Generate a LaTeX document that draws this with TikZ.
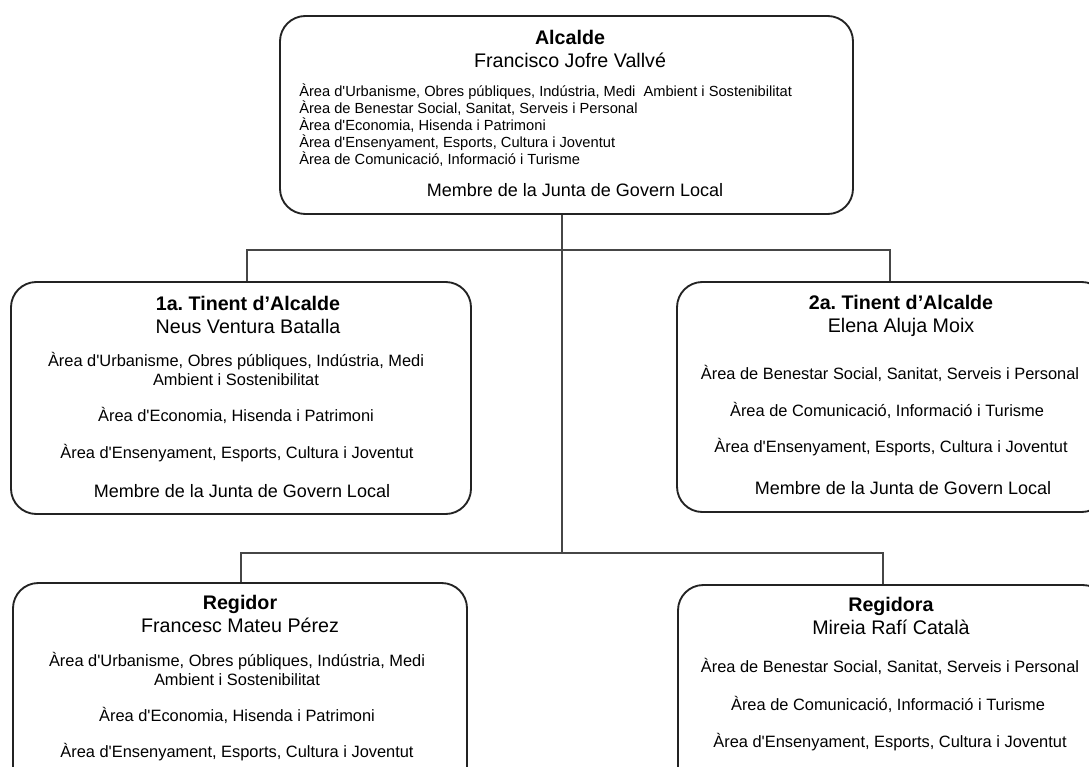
\documentclass[tikz,border=0pt]{standalone}
\usepackage{fontspec}
\setmainfont{Liberation Sans}
\usepackage{tikz}
\usetikzlibrary{positioning, calc}
\definecolor{boxline}{RGB}{35,35,35}
\definecolor{linkline}{RGB}{70,70,70}
\newcommand{\ap}{\textquotesingle}
\frenchspacing
\tikzset{
  orgbox/.style={rectangle, draw=boxline, line width=1.4pt,
    rounded corners=19pt, inner sep=0pt},
  head/.style={align=center, inner sep=0pt,
    font=\fontsize{14.75}{17.5}\selectfont},
  area/.style={align=center, inner sep=0pt,
    font=\fontsize{12.3}{14.8}\selectfont},
  toparea/.style={align=left, inner sep=0pt, anchor=west,
    font=\fontsize{11}{12.75}\selectfont},
  member/.style={inner sep=0pt, font=\fontsize{13.5}{16}\selectfont},
  link/.style={draw=linkline, line width=1pt}
}

\begin{document}
\begin{tikzpicture}[x=0.75pt, y=-0.75pt]
  \useasboundingbox (0,0) rectangle (1089,767);
  \clip (0,0) rectangle (1089,767);

  % Boxes
  \node[orgbox, minimum width=429.75pt, minimum height=148.5pt] (alcalde) at (566.5,115) {};
  \node[orgbox, minimum width=345pt, minimum height=174pt] (tinent1) at (241,398) {};
  \node[orgbox, minimum width=322.5pt, minimum height=172.5pt] (tinent2) at (892,397) {};
  \node[orgbox, minimum width=340.5pt, minimum height=172.5pt] (regidor) at (240,698) {};
  \node[orgbox, minimum width=322.5pt, minimum height=172.5pt] (regidora) at (893,700) {};

  % Alcalde
  \node[head] (alc-head) at (570,49) {\textbf{Alcalde}\\Francisco Jofre Vallvé};
  \node[toparea] (alc-area) at (299,125.5) {Àrea d\ap Urbanisme, Obres públiques, Indústria, Medi\ \ Ambient i Sostenibilitat\\
    Àrea de Benestar Social, Sanitat, Serveis i Personal\\
    Àrea d\ap Economia, Hisenda i Patrimoni\\
    Àrea d\ap Ensenyament, Esports, Cultura i Joventut\\
    Àrea de Comunicació, Informació i Turisme};
  \node[member] (alc-memb) at (575,190) {Membre de la Junta de Govern Local};

  % 1a. Tinent
  \node[head] (t1-head) at (248,315) {\textbf{1a. Tinent d’Alcalde}\\Neus Ventura Batalla};
  \node[area] (t1-a1) at (236,369) {Àrea d\ap Urbanisme, Obres públiques, Indústria, Medi\\Ambient i Sostenibilitat};
  \node[area] (t1-a2) at (236,415) {Àrea d\ap Economia, Hisenda i Patrimoni};
  \node[area] (t1-a3) at (237,453) {Àrea d\ap Ensenyament, Esports, Cultura i Joventut};
  \node[member] (t1-memb) at (242,491) {Membre de la Junta de Govern Local};

  % 2a. Tinent
  \node[head] (t2-head) at (901,316) {\textbf{2a. Tinent d’Alcalde}\\Elena Aluja Moix};
  \node[area] (t2-a1) at (890,373) {Àrea de Benestar Social, Sanitat, Serveis i Personal};
  \node[area] (t2-a2) at (887,410) {Àrea de Comunicació, Informació i Turisme};
  \node[area] (t2-a3) at (891,447) {Àrea d\ap Ensenyament, Esports, Cultura i Joventut};
  \node[member] (t2-memb) at (903,488) {Membre de la Junta de Govern Local};

  % Regidor
  \node[head] (r1-head) at (240,614) {\textbf{Regidor}\\Francesc Mateu Pérez};
  \node[area] (r1-a1) at (237,669) {Àrea d\ap Urbanisme, Obres públiques, Indústria, Medi\\Ambient i Sostenibilitat};
  \node[area] (r1-a2) at (237,715) {Àrea d\ap Economia, Hisenda i Patrimoni};
  \node[area] (r1-a3) at (237,752) {Àrea d\ap Ensenyament, Esports, Cultura i Joventut};

  % Regidora
  \node[head] (r2-head) at (891,616) {\textbf{Regidora}\\Mireia Rafí Català};
  \node[area] (r2-a1) at (890,666) {Àrea de Benestar Social, Sanitat, Serveis i Personal};
  \node[area] (r2-a2) at (888,704) {Àrea de Comunicació, Informació i Turisme};
  \node[area] (r2-a3) at (890,742) {Àrea d\ap Ensenyament, Esports, Cultura i Joventut};

  % Connectors
  \coordinate (fork1) at (562,250);
  \coordinate (fork2) at (562,553);
  \draw[link] (alcalde.south -| fork1) -- (fork2);
  \draw[link] ([xshift=4.5pt]tinent1.north) |- (fork1) -| ([xshift=-1.5pt]tinent2.north);
  \draw[link] ([xshift=0.75pt]regidor.north) |- (fork2) -| ([xshift=-7.5pt]regidora.north);
\end{tikzpicture}
\end{document}
